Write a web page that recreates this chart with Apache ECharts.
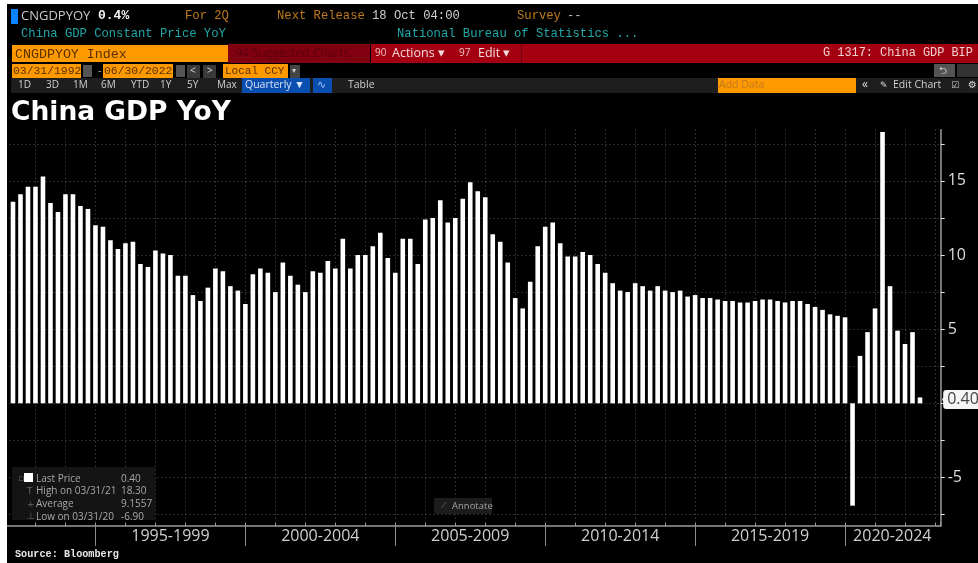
<!DOCTYPE html>
<html><head><meta charset="utf-8">
<style>html,body{margin:0;padding:0;background:#fff}#c{width:978px;height:563px}</style>
<script src="https://cdn.jsdelivr.net/npm/echarts@6/dist/echarts.min.js"></script>
</head><body><div id="c"></div>
<script>
const firstYear = 1992;
const values = [13.6,14.1,14.6,14.6,15.3,13.5,12.9,14.1,14.1,13.3,13.1,12.0,11.9,11.0,10.4,10.8,10.9,9.4,9.2,10.3,10.1,10.0,8.6,8.6,7.3,6.9,7.8,9.1,8.9,7.9,7.6,6.7,8.7,9.1,8.8,7.5,9.5,8.6,8.0,7.5,8.9,8.8,9.6,9.1,11.1,9.1,10.0,10.0,10.6,11.5,9.8,8.8,11.1,11.1,9.4,12.4,12.5,13.7,12.2,12.5,13.8,14.9,14.3,13.9,11.4,10.9,9.5,7.1,6.4,8.2,10.6,11.9,12.2,10.8,9.9,9.9,10.2,10.0,9.4,8.8,8.1,7.6,7.5,8.1,7.9,7.6,7.9,7.6,7.5,7.6,7.2,7.3,7.1,7.1,7.0,6.9,6.9,6.8,6.8,6.9,7.0,7.0,6.9,6.8,6.9,6.9,6.7,6.5,6.3,6.0,5.9,5.8,-6.9,3.2,4.8,6.4,18.3,7.9,4.9,4.0,4.8,0.4];
const quarters = values.map((_, i) => (firstYear + Math.floor(i / 4)) + 'Q' + (i % 4 + 1));
const periodLabels = ['1995-1999','2000-2004','2005-2009','2010-2014','2015-2019','2020-2024'];
const periodCenters = [22,42,62,82,102,118.3];
const periodTicks = [12,32,52,72,92,112];
const yLabels = [15,10,5,-5];
const yGrid = [-7.5,-5,-2.5,0,2.5,5,7.5,10,12.5,15,17.5];
const lastValue = 0.4;
const legendNames = ['Last Price','High on 03/31/21','Average','Low on 03/31/20'];
const legendValues = ['0.40','18.30','9.1557','-6.90'];
const rangeTabs = [['1D',24],['3D',52],['1M',79],['6M',107],['YTD',137],['1Y',166],['5Y',193],['Max',223]];

const mono = '"Liberation Mono","DejaVu Sans Mono",monospace';
const sans = '"Open Sans","Noto Sans",sans-serif';
const T = (x,y,text,fill,size,font,extra) => ({type:'text',z:50,x,y,style:Object.assign({text,fill,font:`${size}px ${font}`,textVerticalAlign:'middle'},extra||{})});
const R = (x,y,w,h,fill,z) => ({type:'rect',z:z||40,shape:{x,y,width:w,height:h},style:{fill}});

const g = [
  R(0,0,978,4,'#fff',100), R(0,0,7,563,'#fff',100),
  R(11,9,7,15,'#0a84ff'),
  T(21,16,'CNGDPYOY','#c8c8c8',13,sans),
  T(98,16,'0.4%','#f0f0f0',13,mono,{font:'bold 13px '+mono}),
  T(185,16,'For 2Q','#c07a20',12.2,mono),
  T(277,16,'Next Release','#c07a20',12.2,mono),
  T(372,16,'18 Oct 04:00','#d0d0d0',12.2,mono),
  T(517,16,'Survey','#c07a20',12.2,mono),
  T(567,16,'--','#bbbbbb',12.2,mono),
  T(21,34,'China GDP Constant Price YoY','#20a8a8',12.2,mono),
  T(397,34,'National Bureau of Statistics ...','#20a8a8',12.2,mono),
  R(12,45,216,17,'#ff9900'),
  T(15,54,'CNGDPYOY Index','#5a3000',13.3,mono),
  R(228,44,142,19,'#80000f'),
  T(235,54,'94 Suggested Charts','#5c0010',12,sans),
  R(371,44,607,19,'#a50012'),
  T(375,53,'90','#e8c0c0',10,sans), T(392,53,'Actions ▾','#f0dcdc',12.5,sans),
  T(459,53,'97','#e8c0c0',10,sans), T(478,53,'Edit ▾','#f0dcdc',12.5,sans),
  R(521,44,1,19,'#6a0010'),
  T(823,53,'G 1317: China GDP BIP','#f0d0d0',11.9,mono),
  R(12,64,69,14,'#ff9900'), T(13,71,'03/31/1992','#5a3000',11.4,mono),
  R(83,65,9,12,'#555'),
  T(98,71,'-','#aaa',11,sans),
  R(103,64,70,14,'#ff9900'), T(104,71,'06/30/2022','#5a3000',11.4,mono),
  R(176,65,9,12,'#555'),
  R(187,65,13,13,'#3a3a3a'), T(190,71,'<','#ddd',10,sans),
  R(203,65,13,13,'#3a3a3a'), T(207,71,'>','#ddd',10,sans),
  R(223,64,65,14,'#ff9900'), T(225,71,'Local CCY','#5a3000',11,mono),
  R(290,65,10,13,'#444'), T(292,71,'▾','#ccc',8,sans),
  R(934,64,21,13,'#555'), R(957,64,21,13,'#333'),
  T(939,71,'⮌','#ddd',10,'"DejaVu Sans"'),
  R(11,78,967,15,'#1e1e1e'),
  R(242,78,68,15,'#0a4fb0'), T(245,85.5,'Quarterly ▼','#d8e4f4',10.5,sans),
  R(313,78,19,15,'#0a4fb0'), T(317,85.5,'∿','#9cc0f0',11,'"DejaVu Sans"'),
  T(348,85.5,'Table','#d0d0d0',10.5,sans),
  R(718,78,138,15,'#ff9900'), T(719,85.5,'Add Data','#c07a20',10.5,sans),
  T(862,85,'«','#ddd',12,sans),
  T(880,85.5,'✎','#ddd',9,'"DejaVu Sans"'),
  T(893,85.5,'Edit Chart','#d0d0d0',10.5,sans),
  T(951,85.5,'☑','#ccc',9,'"DejaVu Sans"'),
  T(968,85.5,'⚙','#ddd',10,'"DejaVu Sans"'),
  T(11,113,'China GDP YoY','#ffffff',26.5,'"DejaVu Sans"',{font:'bold 26.5px "DejaVu Sans"'}),
  R(12,467,143,53,'#141414'),
  R(24,473,9,9,'#ffffff'),
  T(15,554,'Source: Bloomberg','#e8e8e8',10.2,mono,{font:'bold 10.2px '+mono}),
  R(434,498,58,16,'#1c1c1c'),
  T(441,506,'⟋','#777',8,'"DejaVu Sans"'),
  T(452,506,'Annotate','#a0a0a0',9.5,sans),
  {type:'polygon',z:60,shape:{points:[[942,399.5],[947,392],[947,407]]},style:{fill:'#f4f4f4'}},
];
rangeTabs.forEach(t => g.push(T(t[1]-6,85.5,t[0],'#cfcfcf',10,sans)));
legendNames.forEach((n,i) => {
  const y = 479 + i*12.6;
  g.push(T(36,y,n,'#a8a8a8',10,sans));
  g.push(T(121,y,legendValues[i],'#a8a8a8',10,sans));
});
['▫','T','+','⊥'].forEach((s,i) => g.push(T(i===0?18:27,479+i*12.6,s,'#666',9,'"DejaVu Sans"')));

const chart = echarts.init(document.getElementById('c'),null,{renderer:'canvas'});
chart.setOption({
  animation:false,
  backgroundColor:'#000',
  grid:{left:5.5,right:37.3,top:129.7,bottom:37,containLabel:false},
  xAxis:[
    {type:'value',min:0,max:124.76,interval:4,
     axisLine:{show:true,onZero:false,lineStyle:{color:'#9a9a9a',width:1.5}},
     axisTick:{show:true,inside:true,length:3,lineStyle:{color:'#9a9a9a'}},
     axisLabel:{show:false},
     splitLine:{show:true,lineStyle:{color:'#555',type:[1,3]}}},
    {type:'value',min:0,max:124.76,position:'bottom',
     axisLine:{show:false,onZero:false},
     axisTick:{show:true,length:20,customValues:periodTicks,lineStyle:{color:'#8a8a8a'}},
     axisLabel:{show:true,customValues:periodCenters,margin:2,color:'#cfcfcf',fontSize:16,fontFamily:sans,
       hideOverlap:false,showMinLabel:true,showMaxLabel:true,
       formatter:v=>periodLabels[periodCenters.indexOf(v)]||''},
     splitLine:{show:false}}
  ],
  yAxis:{type:'value',position:'right',min:-8.27,max:18.45,
    axisLine:{show:true,onZero:false,lineStyle:{color:'#9a9a9a',width:1.5}},
    axisTick:{show:true,length:4,customValues:yGrid,lineStyle:{color:'#ddd'}},
    axisLabel:{margin:7,customValues:yLabels,color:'#dcdcdc',fontSize:16,fontFamily:sans,
      formatter:v=>String(v)},
    splitLine:{show:true,customValues:yGrid,lineStyle:{color:'#555',type:[1,3]}}},
  series:[{type:'bar',name:'CNGDPYOY',barWidth:4.6,itemStyle:{color:'#fff'},
    data:values.map((v,i)=>[i+1,v]),
    markPoint:{silent:true,symbol:'rect',symbolSize:0,
      data:[{coord:[values.length,lastValue],value:'0.40'}],
      label:{show:true,position:'inside',offset:[43,2],formatter:'0.40',color:'#444',backgroundColor:'#f4f4f4',
        borderRadius:3,padding:[2,4,1,4],fontSize:16,fontFamily:sans}}}],
  graphic:g
});
</script></body></html>
